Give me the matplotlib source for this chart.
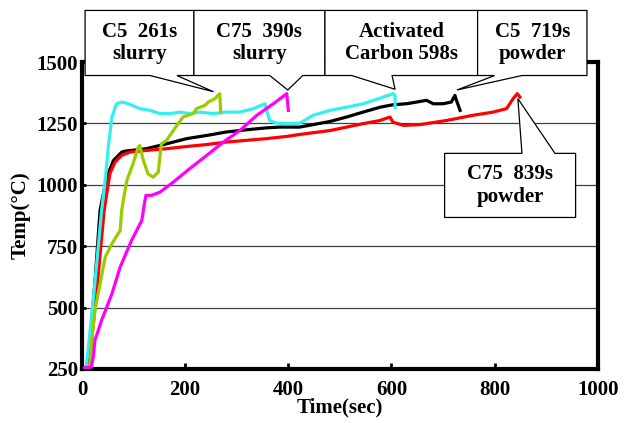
import numpy as np
import matplotlib
matplotlib.use('Agg')
import matplotlib.pyplot as plt
from matplotlib.patches import Polygon

plt.rcParams['font.family'] = ['Liberation Serif', 'DejaVu Serif']
plt.rcParams['font.weight'] = 'bold'

# C5 slurry (green)
c5_slurry_t = [12, 16, 19, 25, 35, 45, 58, 74, 77, 80, 87, 99, 109, 112, 119, 128,
               138, 148, 151, 154, 164, 177, 196, 216, 222, 238, 245, 258, 267, 269]
c5_slurry_temp = [255, 273, 366, 488, 597, 705, 760, 814, 896, 936, 1018, 1086, 1153,
                  1160, 1099, 1045, 1031, 1052, 1113, 1167, 1181, 1221, 1276, 1290,
                  1310, 1323, 1337, 1351, 1371, 1296]

# C75 slurry (magenta)
c75_slurry_t = [5, 18, 22, 25, 38, 58, 74, 96, 116, 122, 124, 135, 151, 177, 209,
                242, 274, 306, 339, 371, 397, 400]
c75_slurry_temp = [255, 258, 300, 366, 448, 556, 665, 773, 855, 936, 957, 957, 970,
                   1011, 1066, 1120, 1174, 1221, 1283, 1330, 1371, 1303]

# Activated carbon (cyan)
ac_t = [8, 12, 25, 38, 45, 51, 58, 67, 77, 90, 112, 132, 151, 171, 190, 209, 229,
        254, 280, 306, 332, 355, 358, 364, 377, 397, 422, 448, 481, 513, 545, 578,
        603, 607, 607]
ac_temp = [255, 330, 600, 896, 1018, 1153, 1276, 1330, 1337, 1330, 1310, 1303, 1290,
           1290, 1296, 1290, 1296, 1290, 1296, 1296, 1310, 1330, 1303, 1262, 1251,
           1249, 1251, 1283, 1303, 1316, 1330, 1353, 1371, 1364, 1316]

# C5 powder (black)
c5_powder_t = [6, 12, 25, 35, 48, 61, 77, 83, 125, 164, 203, 242, 280, 319, 358, 384,
               422, 448, 481, 513, 545, 578, 603, 629, 649, 668, 681, 700, 716, 723,
               726, 733]
c5_powder_temp = [255, 272, 600, 896, 1031, 1099, 1133, 1137, 1147, 1167, 1188, 1201,
                  1215, 1224, 1232, 1235, 1235, 1245, 1258, 1276, 1296, 1316, 1326,
                  1330, 1337, 1344, 1330, 1330, 1337, 1364, 1344, 1303]

# C75 powder (red)
c75_powder_t = [10, 14, 30, 43, 54, 64, 77, 93, 125, 164, 203, 242, 280, 319, 358, 397,
                422, 448, 481, 513, 545, 578, 597, 603, 623, 655, 707, 758, 797, 823,
                836, 844, 849]
c75_powder_temp = [255, 273, 600, 896, 1045, 1092, 1120, 1133, 1140, 1147, 1156, 1164,
                   1174, 1181, 1188, 1197, 1205, 1212, 1221, 1235, 1249, 1262, 1276,
                   1255, 1242, 1245, 1262, 1283, 1296, 1310, 1351, 1371, 1357]

x_ticks = [0, 200, 400, 600, 800, 1000]
y_ticks = [250, 500, 750, 1000, 1250, 1500]

fig = plt.figure(figsize=(6.24, 4.23), dpi=100)
ax = fig.add_axes([0.1314, 0.1277, 0.8266, 0.7257])

series = [
    (c5_powder_t, c5_powder_temp, 'black'),
    (c75_powder_t, c75_powder_temp, '#ff0000'),
    (ac_t, ac_temp, '#33f0f0'),
    (c5_slurry_t, c5_slurry_temp, '#99cc00'),
    (c75_slurry_t, c75_slurry_temp, '#ff00ff'),
]
for t, temp, col in series:
    ax.plot(t, temp, color=col, lw=2.3, zorder=3)

ax.set_xlim(0, 1000)
ax.set_ylim(250, 1500)
ax.set_xticks(x_ticks)
ax.set_yticks(y_ticks)
ax.tick_params(axis='x', direction='in', length=4, width=2, pad=8, labelsize=15)
ax.tick_params(axis='y', direction='in', length=3, width=2, pad=3, labelsize=15)
for s in ax.spines.values():
    s.set_linewidth(3)
ax.yaxis.grid(True, color='#404040', lw=0.9)
ax.set_axisbelow(True)

ax.set_xlabel('Time(sec)', fontsize=15, fontweight='bold', labelpad=-2)
ax.set_ylabel('Temp(°C)', fontsize=15, fontweight='bold', labelpad=4)


def callout(x0, x1, y0, y1, b0, b1, tip, text, top_wedge=False):
    if not top_wedge:
        verts = [(x0, y1), (x1, y1), (x1, y0), (b1, y0), tip, (b0, y0), (x0, y0)]
    else:
        verts = [(x0, y0), (x1, y0), (x1, y1), (b1, y1), tip, (b0, y1), (x0, y1)]
    ax.add_patch(Polygon(verts, closed=True, facecolor='white', edgecolor='black',
                         lw=0.9, clip_on=False, zorder=5))
    ax.text((x0 + x1) / 2, (y0 + y1) / 2, text, ha='center', va='center',
            fontsize=15, fontweight='bold', zorder=6, linespacing=1.15,
            clip_on=False)


def peak(t, temp):
    i = int(np.argmax(temp))
    return t[i], temp[i]


pt, pv = peak(c5_slurry_t, c5_slurry_temp)
callout(6, 217, 1445, 1710, 132, 184, (pt - 12, pv + 8), 'C5  261s\nslurry')
pt, pv = peak(c75_slurry_t, c75_slurry_temp)
callout(217, 471, 1445, 1710, 364, 428, (pt + 2, pv + 15), 'C75  390s\nslurry')
pt, pv = peak(ac_t, ac_temp)
callout(471, 767, 1445, 1710, 523, 601, (pt + 4, pv + 18), 'Activated\nCarbon 598s')
pt, pv = peak(c5_powder_t, c5_powder_temp)
callout(767, 979, 1445, 1710, 800, 853, (pt + 4, pv + 22), 'C5  719s\npowder')
# lower box for red
pt, pv = peak(c75_powder_t, c75_powder_temp)
callout(703, 957, 867, 1128, 853, 917, (pt + 1, pv - 20), 'C75  839s\npowder',
        top_wedge=True)

fig.savefig('out.png', dpi=100)
